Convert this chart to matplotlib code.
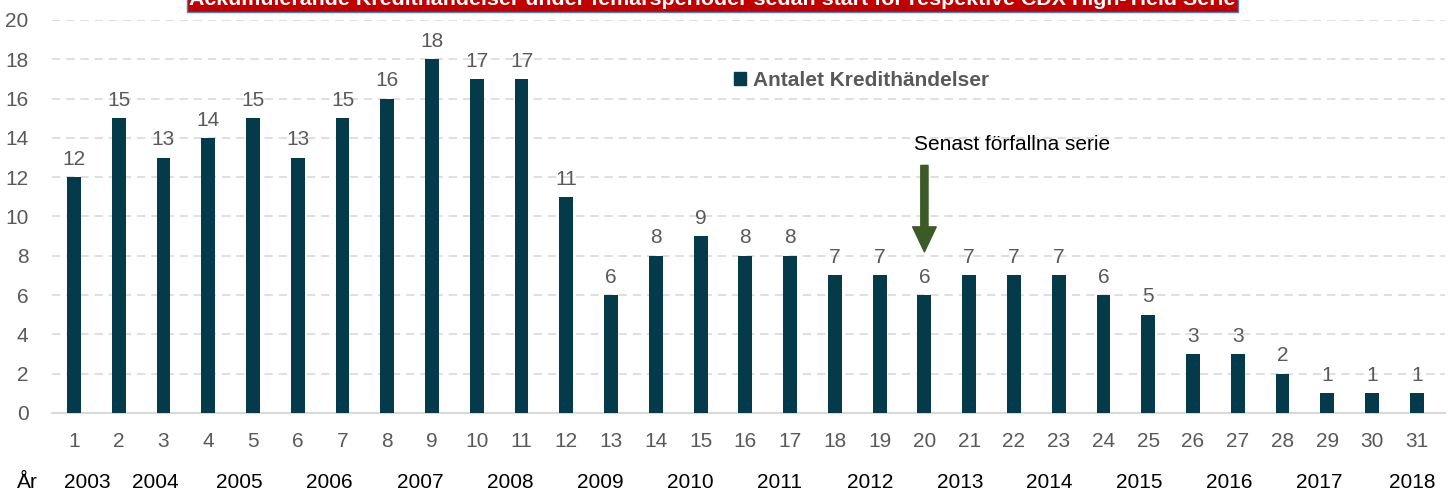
import matplotlib.pyplot as plt
import matplotlib.transforms as mtransforms
from matplotlib.patches import Patch

plt.rcParams['font.family'] = ['Liberation Sans', 'DejaVu Sans']

# data
series = list(range(1, 32))
events = [12, 15, 13, 14, 15, 13, 15, 16, 18, 17, 17, 11, 6, 8, 9, 8, 8, 7, 7, 6,
          7, 7, 7, 6, 5, 3, 3, 2, 1, 1, 1]
years = ['2003', '2004', '2005', '2006', '2007', '2008', '2009', '2010', '2011',
         '2012', '2013', '2014', '2015', '2016', '2017', '2018']
# where each year label sits along the series axis
year_pos = [1.31, 2.81, 4.69, 6.70, 8.73, 10.74, 12.75, 14.76, 16.77, 18.78,
            20.79, 22.80, 24.81, 26.82, 28.83, 30.89]
latest_series = 20

bar_color = '#053a4b'
gray = '#595959'
fs = 15

fig = plt.figure(figsize=(14.54, 4.96), dpi=100)
ax = fig.add_axes([52 / 1454, 83 / 496, 1393 / 1454, 393 / 496])

bars = ax.bar(series, events, width=0.31, color=bar_color, zorder=3)
ax.bar_label(bars, padding=6, fontsize=fs, color=gray)

ax.set_xlim(0.51, 31.63)
ax.set_ylim(0, 20)
ax.set_yticks(range(0, 21, 2))
ax.set_xticks(series)
ax.tick_params(axis='both', length=0, labelsize=fs, labelcolor=gray)
ax.tick_params(axis='y', pad=17)
ax.tick_params(axis='x', pad=14)

ax.grid(axis='y', color='#d9d9d9', linestyle=(0, (5, 3.5)), linewidth=1.2, zorder=0)
for s in ['top', 'right', 'left']:
    ax.spines[s].set_visible(False)
ax.spines['bottom'].set_color('#d9d9d9')
ax.spines['bottom'].set_linewidth(1.5)

# year row under the series numbers
trans = mtransforms.blended_transform_factory(ax.transData, ax.transAxes)
ax.text(-0.03, -0.176, 'År', transform=trans, ha='center', va='center',
        fontsize=fs, color='black')
for pos, yr in zip(year_pos, years):
    ax.text(pos, -0.176, yr, transform=trans, ha='center', va='center',
            fontsize=fs, color='black')

# arrow to the latest expired series
ax.annotate('', xy=(latest_series, 8.2), xytext=(latest_series, 12.6),
            arrowprops=dict(arrowstyle='simple,head_length=0.9,head_width=0.85,tail_width=0.26',
                            color='#3b5a26', mutation_scale=20, shrinkA=0, shrinkB=0),
            zorder=4)
ax.text(21.95, 13.65, 'Senast förfallna serie', ha='center', va='center',
        fontsize=fs, color='black')

ax.legend(handles=[Patch(color=bar_color, label='Antalet Kredithändelser')],
          loc='center left', bbox_to_anchor=(0.476, 0.847), frameon=False,
          handlelength=0.6, handleheight=0.6, handletextpad=0.3,
          prop={'weight': 'bold', 'size': fs}, labelcolor=gray)

# banner title, partly above the top edge as in the source picture
fig.text(0.49, 0.99, 'Ackumulerande Kredithändelser under femårsperioder sedan start för respektive CDX High-Yield Serie',
         ha='center', va='baseline', fontsize=15.4, fontweight='bold', color='white',
         bbox=dict(boxstyle='square,pad=0.12', facecolor='#c00000', edgecolor='#4f81bd', linewidth=1))

fig.savefig('out.png', dpi=100)
